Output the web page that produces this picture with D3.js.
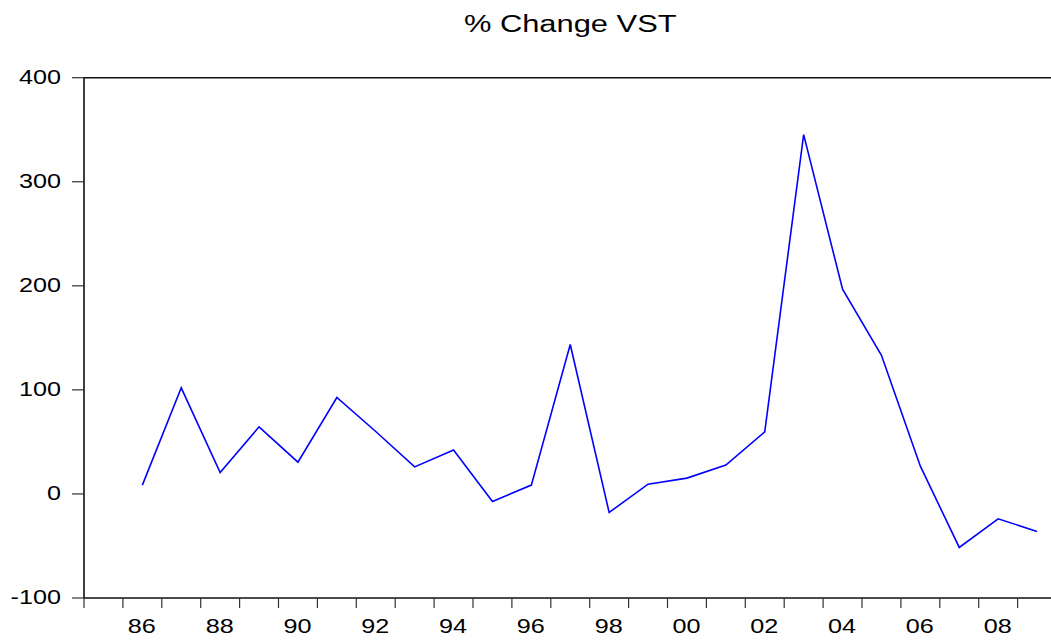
<!DOCTYPE html>
<html>
<head>
<meta charset="utf-8">
<script src="https://cdn.jsdelivr.net/npm/d3@7"></script>
<style>
  body { margin: 0; background: #fff; }
  text { font-family: "Liberation Sans", Arial, sans-serif; fill: #000; }
</style>
</head>
<body>
<div id="chart"></div>
<script>

// data, first year (85) has no % change
var years = [1986, 1987, 1988, 1989, 1990, 1991, 1992, 1993, 1994, 1995, 1996, 1997,
             1998, 1999, 2000, 2001, 2002, 2003, 2004, 2005, 2006, 2007, 2008, 2009];
var pctChange = [8.5, 102, 20.6, 64.5, 30.5, 92.7, 60, 26, 42.3, -7.2, 8.5, 143.6,
                 -17.8, 9.4, 15.2, 27.7, 59.7, 345.3, 196.7, 133.3, 26.7, -51.4, -23.9, -36];
var yTicks = [-100, 0, 100, 200, 300, 400];
var xLabelYears = [1986, 1988, 1990, 1992, 1994, 1996, 1998, 2000, 2002, 2004, 2006, 2008];
var title = "% Change VST";

var width = 1051, height = 641;
// careful: "top" is taken by window.top, so use other names
var plotL = 84, plotT = 77.7, plotR = 1056.5, plotB = 598;

var svg = d3.select("#chart")
  .append("svg")
    .attr("width", width)
    .attr("height", height)

var x = d3.scaleLinear()
    .domain([1985, 2010])
    .range([plotL, plotR])

var y = d3.scaleLinear()
    .domain([-100, 400])
    .range([plotB, plotT])

// the eviews text looks stretched sideways, so scale x a bit
function wideText(sel, px, py, anchor, size, str, stretch) {
  sel.append("text")
    .attr("transform", "translate(" + px + "," + py + ") scale(" + stretch + ",1)")
    .attr("text-anchor", anchor)
    .style("font-size", size + "px")
    .text(str)
}

// title
wideText(svg, (plotL + plotR) / 2, 32, "middle", 24.5, title, 1.26)

// frame (right edge is off the picture)
svg.append("path")
    .attr("d", "M" + plotL + "," + plotB + "V" + plotT + "H" + plotR + "V" + plotB + "Z")
    .attr("fill", "none")
    .attr("stroke", "#111")
    .attr("stroke-width", 1.6)

// y ticks + labels
yTicks.forEach(function(v) {
  svg.append("line")
    .attr("x1", plotL - 12).attr("x2", plotL)
    .attr("y1", y(v)).attr("y2", y(v))
    .attr("stroke", "#333")
    .attr("stroke-width", 1.2)
  wideText(svg, plotL - 23, y(v) + 5.8, "end", 21, v, 1.2)
})

// x ticks at every year boundary
d3.range(1985, 2011).forEach(function(yr) {
  svg.append("line")
    .attr("x1", x(yr)).attr("x2", x(yr))
    .attr("y1", plotB).attr("y2", plotB + 10)
    .attr("stroke", "#333")
    .attr("stroke-width", 1.2)
})

// labels sit in the middle of the year
xLabelYears.forEach(function(yr) {
  wideText(svg, x(yr + 0.5) - 0.5, 633, "middle", 21, String(yr).slice(2), 1.2)
})

var line = d3.line()
    .x(function(d, i) { return x(years[i] + 0.5); })
    .y(function(d) { return y(d); })

svg.append("path")
    .datum(pctChange)
    .attr("d", line)
    .attr("fill", "none")
    .attr("stroke", "#0000ff")
    .attr("stroke-width", 1.6)
    .attr("stroke-linejoin", "miter")

</script>
</body>
</html>
